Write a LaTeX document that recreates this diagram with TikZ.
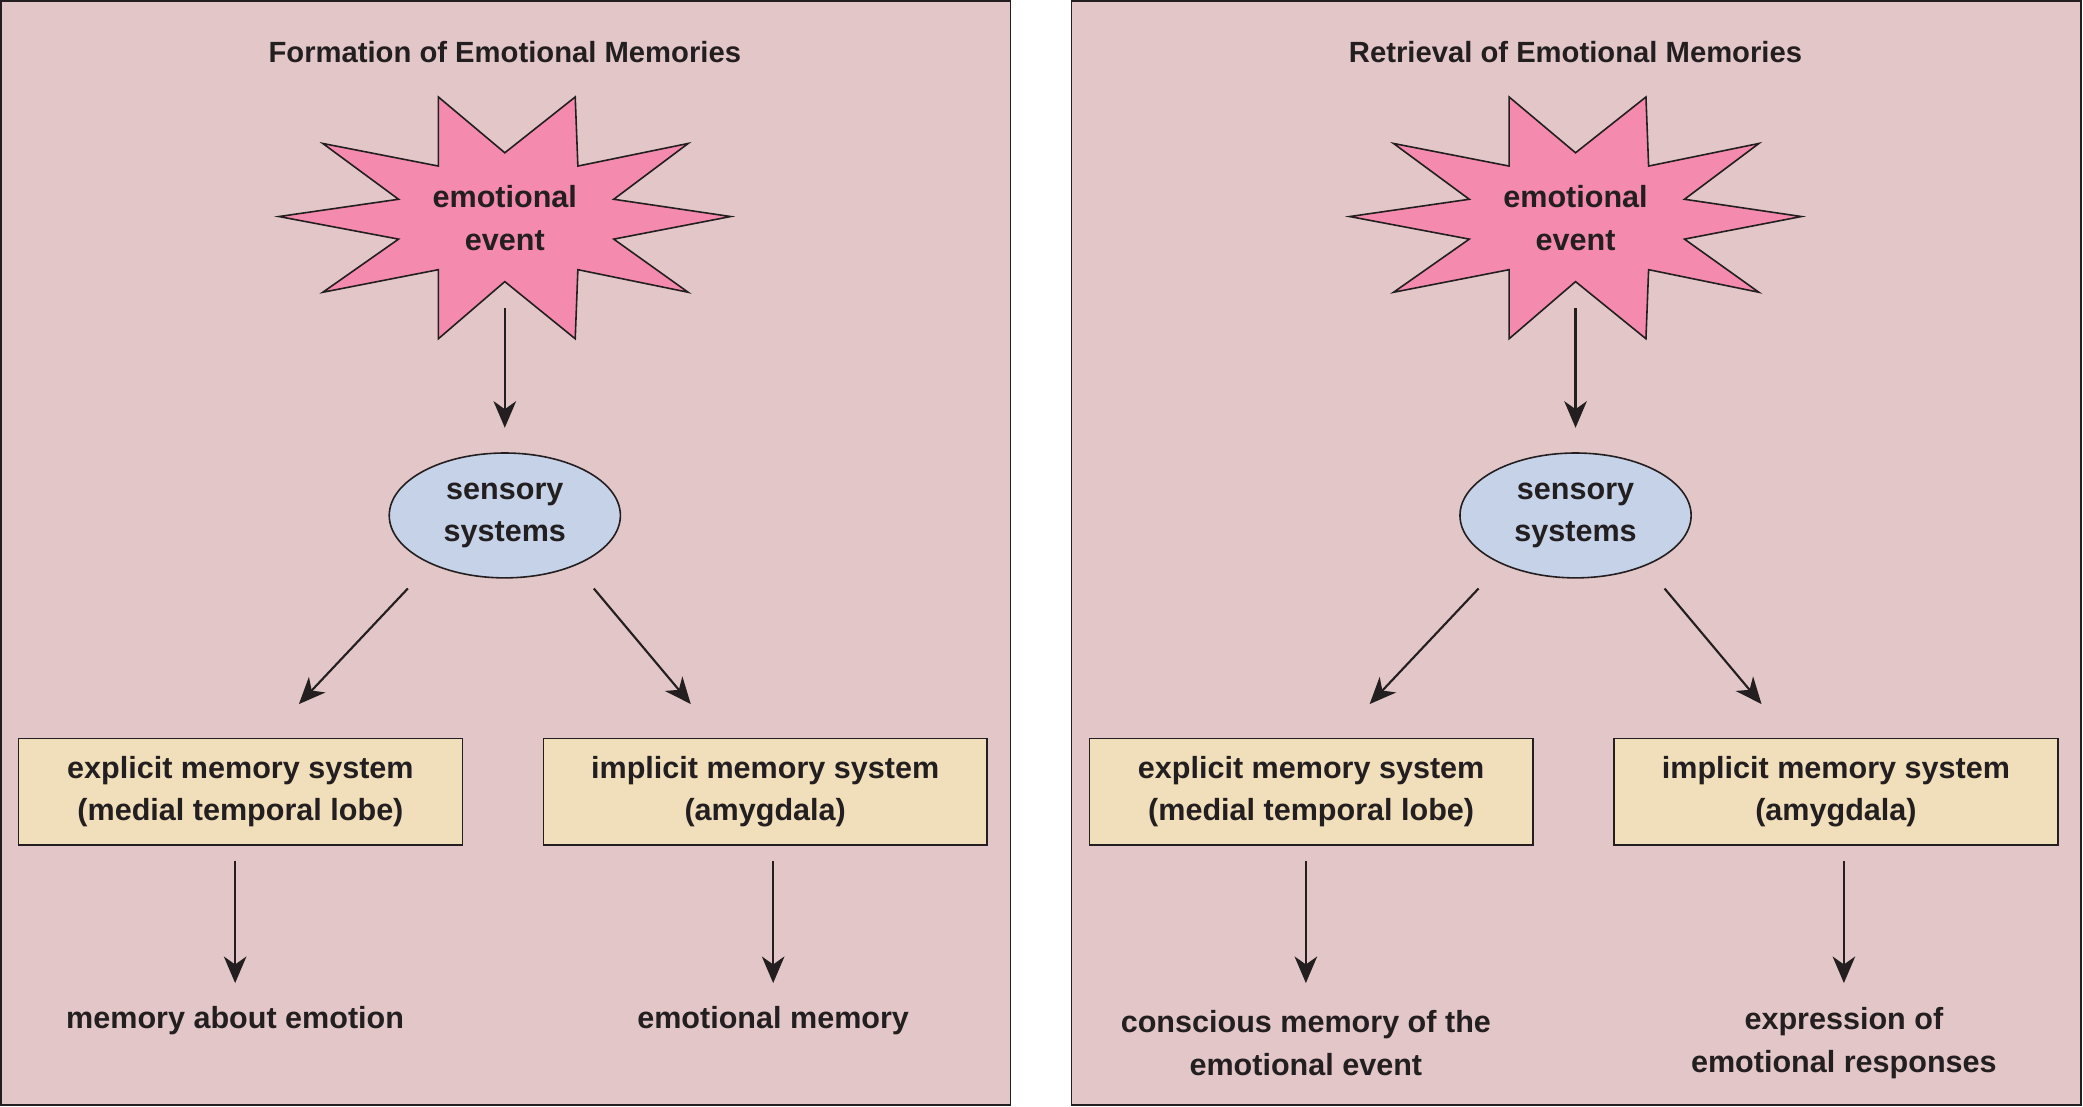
\documentclass[tikz,border=0pt]{standalone}
\usepackage{fontspec}
\setmainfont{Liberation Sans}
\usetikzlibrary{arrows.meta,shapes.geometric}
\definecolor{panelbg}{HTML}{E2C6C8}
\definecolor{starfill}{HTML}{F48AAE}
\definecolor{ellfill}{HTML}{C5D2E8}
\definecolor{boxfill}{HTML}{F1DEBB}
\definecolor{ink}{HTML}{231F20}
\tikzset{
 panel/.style={draw=ink,line width=1.2pt,fill=panelbg},
 lbl/.style={font=\bfseries\fontsize{23}{32}\selectfont,text=ink,align=center},
 ttl/.style={font=\bfseries\fontsize{22}{28}\selectfont,text=ink},
 box/.style={draw=ink,line width=1.2pt,fill=boxfill,minimum width=334pt,minimum height=80pt,lbl,inner sep=0pt},
 ell/.style={ellipse,draw=ink,line width=1.2pt,fill=ellfill,minimum width=174pt,minimum height=94pt,lbl,inner sep=0pt},
 arr/.style={draw=ink,line width=1.6pt,-{Stealth[length=20pt,width=17pt,inset=6pt]}}
}
\newcommand{\mypanel}[7]{%
\begin{scope}[xshift=#1pt]
 \node[panel,minimum width=760pt,minimum height=831pt,anchor=north west,inner sep=0pt] (bg#7) at (0,0) {};
 \node[ttl] (t#7) at (380,39) {#2};
 \draw[draw=ink,line width=1.2pt,fill=starfill]
  (-170+380,0+163)--(-80+380,-13+163)--(-137+380,-55+163)--(-50+380,-38+163)--(-50+380,-90+163)--(0+380,-48+163)
  --(53+380,-90+163)--(55+380,-38+163)--(138+380,-55+163)--(82+380,-13+163)--(170+380,0+163)--(82+380,17+163)
  --(138+380,57+163)--(55+380,40+163)--(53+380,92+163)--(0+380,49+163)--(-50+380,92+163)--(-50+380,40+163)
  --(-137+380,57+163)--(-80+380,17+163)--cycle;
 \node[lbl] (ev#7) at (380,164) {emotional\\event};
 \node[ell] (ss#7) at (380,388) {sensory\\systems};
 \node[box] (ex#7) at (181,596) {explicit memory system\\(medial temporal lobe)};
 \node[box] (im#7) at (576,596) {implicit memory system\\(amygdala)};
 \node[lbl] (o1#7) at (177,#5) {#3};
 \node[lbl] (o2#7) at (582,#6) {#4};
 \coordinate (a1#7) at (380,232); \coordinate (a2#7) at (380,322);
 \coordinate (b1#7) at (307,443); \coordinate (b2#7) at (225,530);
 \coordinate (c1#7) at (447,443); \coordinate (c2#7) at (520,530);
 \coordinate (d1#7) at (177,648); \coordinate (d2#7) at (177,740);
 \coordinate (e1#7) at (582,648); \coordinate (e2#7) at (582,740);
 \draw[arr] (a1#7)--(a2#7);
 \draw[arr] (b1#7)--(b2#7);
 \draw[arr] (c1#7)--(c2#7);
 \draw[arr] (d1#7)--(d2#7);
 \draw[arr] (e1#7)--(e2#7);
\end{scope}}
\begin{document}
\begin{tikzpicture}[x=1pt,y=-1pt]
\useasboundingbox (0,0) rectangle (1568,833);
\mypanel{0}{Formation of Emotional Memories}{memory about emotion}{emotional memory}{768}{768}{L}
\mypanel{806}{Retrieval of Emotional Memories}{conscious memory of the\\emotional event}{expression of\\emotional responses}{785}{785}{R}
\end{tikzpicture}
\end{document}
